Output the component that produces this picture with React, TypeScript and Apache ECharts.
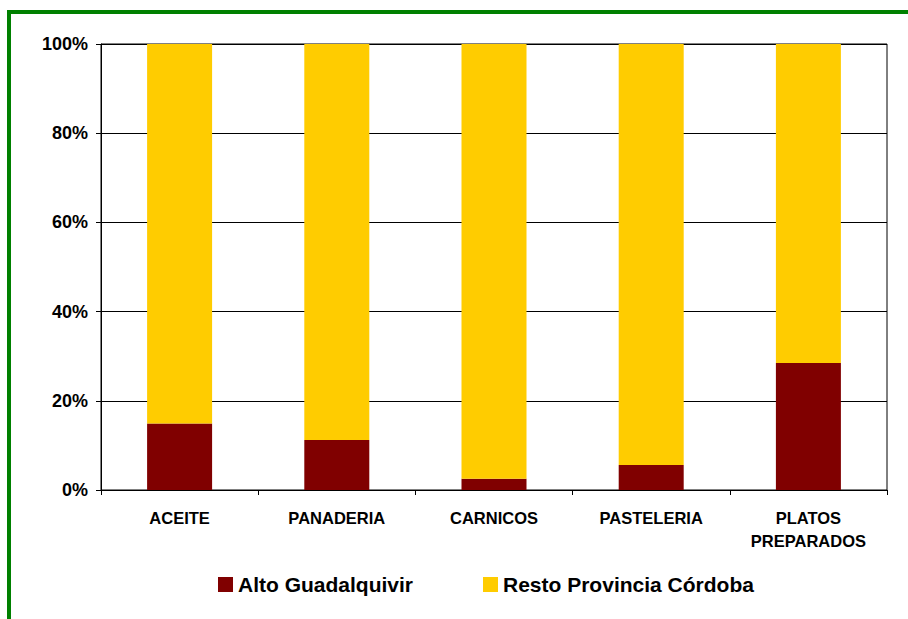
import React, { useEffect, useRef } from "react";
import * as echarts from "echarts";

const categories = ["ACEITE", "PANADERIA", "CARNICOS", "PASTELERIA", "PLATOS\nPREPARADOS"];
const altoGuadalquivir = [14.9, 11.2, 2.5, 5.6, 28.5];
const restoProvincia = [85.1, 88.8, 97.5, 94.4, 71.5];
const seriesNames = ["Alto Guadalquivir", "Resto Provincia Córdoba"];

export default function App() {
  const ref = useRef<HTMLDivElement>(null);
  useEffect(() => {
    if (!ref.current) return;
    const chart = echarts.init(ref.current, null, { renderer: "svg" });
    const font = "Arial, 'Liberation Sans', sans-serif";
    chart.setOption({
      animation: false,
      backgroundColor: "#ffffff",
      textStyle: { fontFamily: font },
      graphic: [
        { type: "rect", shape: { x: 7, y: 10, width: 901, height: 4 }, style: { fill: "#008000" } },
        { type: "rect", shape: { x: 7, y: 10, width: 4, height: 609 }, style: { fill: "#008000" } },
      ],
      grid: {
        left: 101,
        top: 44,
        right: 21,
        bottom: 129,
        show: true,
        borderColor: "#000000",
        borderWidth: 1,
        backgroundColor: "transparent",
      },
      legend: {
        left: 218,
        top: 574,
        padding: 0,
        itemWidth: 15,
        itemHeight: 15,
        itemGap: 70,
        icon: "rect",
        data: seriesNames,
        textStyle: {
          fontFamily: font,
          fontWeight: "bold",
          fontSize: 21,
          color: "#000000",
          lineHeight: 20,
        },
      },
      xAxis: {
        type: "category",
        data: categories,
        axisLine: { lineStyle: { color: "#000000", width: 1 } },
        axisTick: { show: true, length: 5, lineStyle: { color: "#000000" } },
        axisLabel: {
          color: "#000000",
          fontFamily: font,
          fontWeight: "bold",
          fontSize: 16.5,
          lineHeight: 23,
          margin: 16,
          interval: 0,
        },
        splitLine: { show: false },
      },
      yAxis: {
        type: "value",
        min: 0,
        max: 100,
        interval: 20,
        axisLine: { show: true, lineStyle: { color: "#000000", width: 1 } },
        axisTick: { show: true, length: 5, lineStyle: { color: "#000000" } },
        axisLabel: {
          color: "#000000",
          fontFamily: font,
          fontWeight: "bold",
          fontSize: 18,
          margin: 13,
          formatter: "{value}%",
        },
        splitLine: { show: true, lineStyle: { color: "#000000", width: 1 } },
      },
      series: [
        {
          name: seriesNames[0],
          type: "bar",
          stack: "total",
          barWidth: 65,
          data: altoGuadalquivir,
          itemStyle: { color: "#800000" },
        },
        {
          name: seriesNames[1],
          type: "bar",
          stack: "total",
          barWidth: 65,
          data: restoProvincia,
          itemStyle: { color: "#FFCC00" },
        },
      ],
    });
    return () => chart.dispose();
  }, []);
  return (
    <div
      ref={ref}
      style={{ position: "fixed", left: 0, top: 0, width: 908, height: 619 }}
    />
  );
}
